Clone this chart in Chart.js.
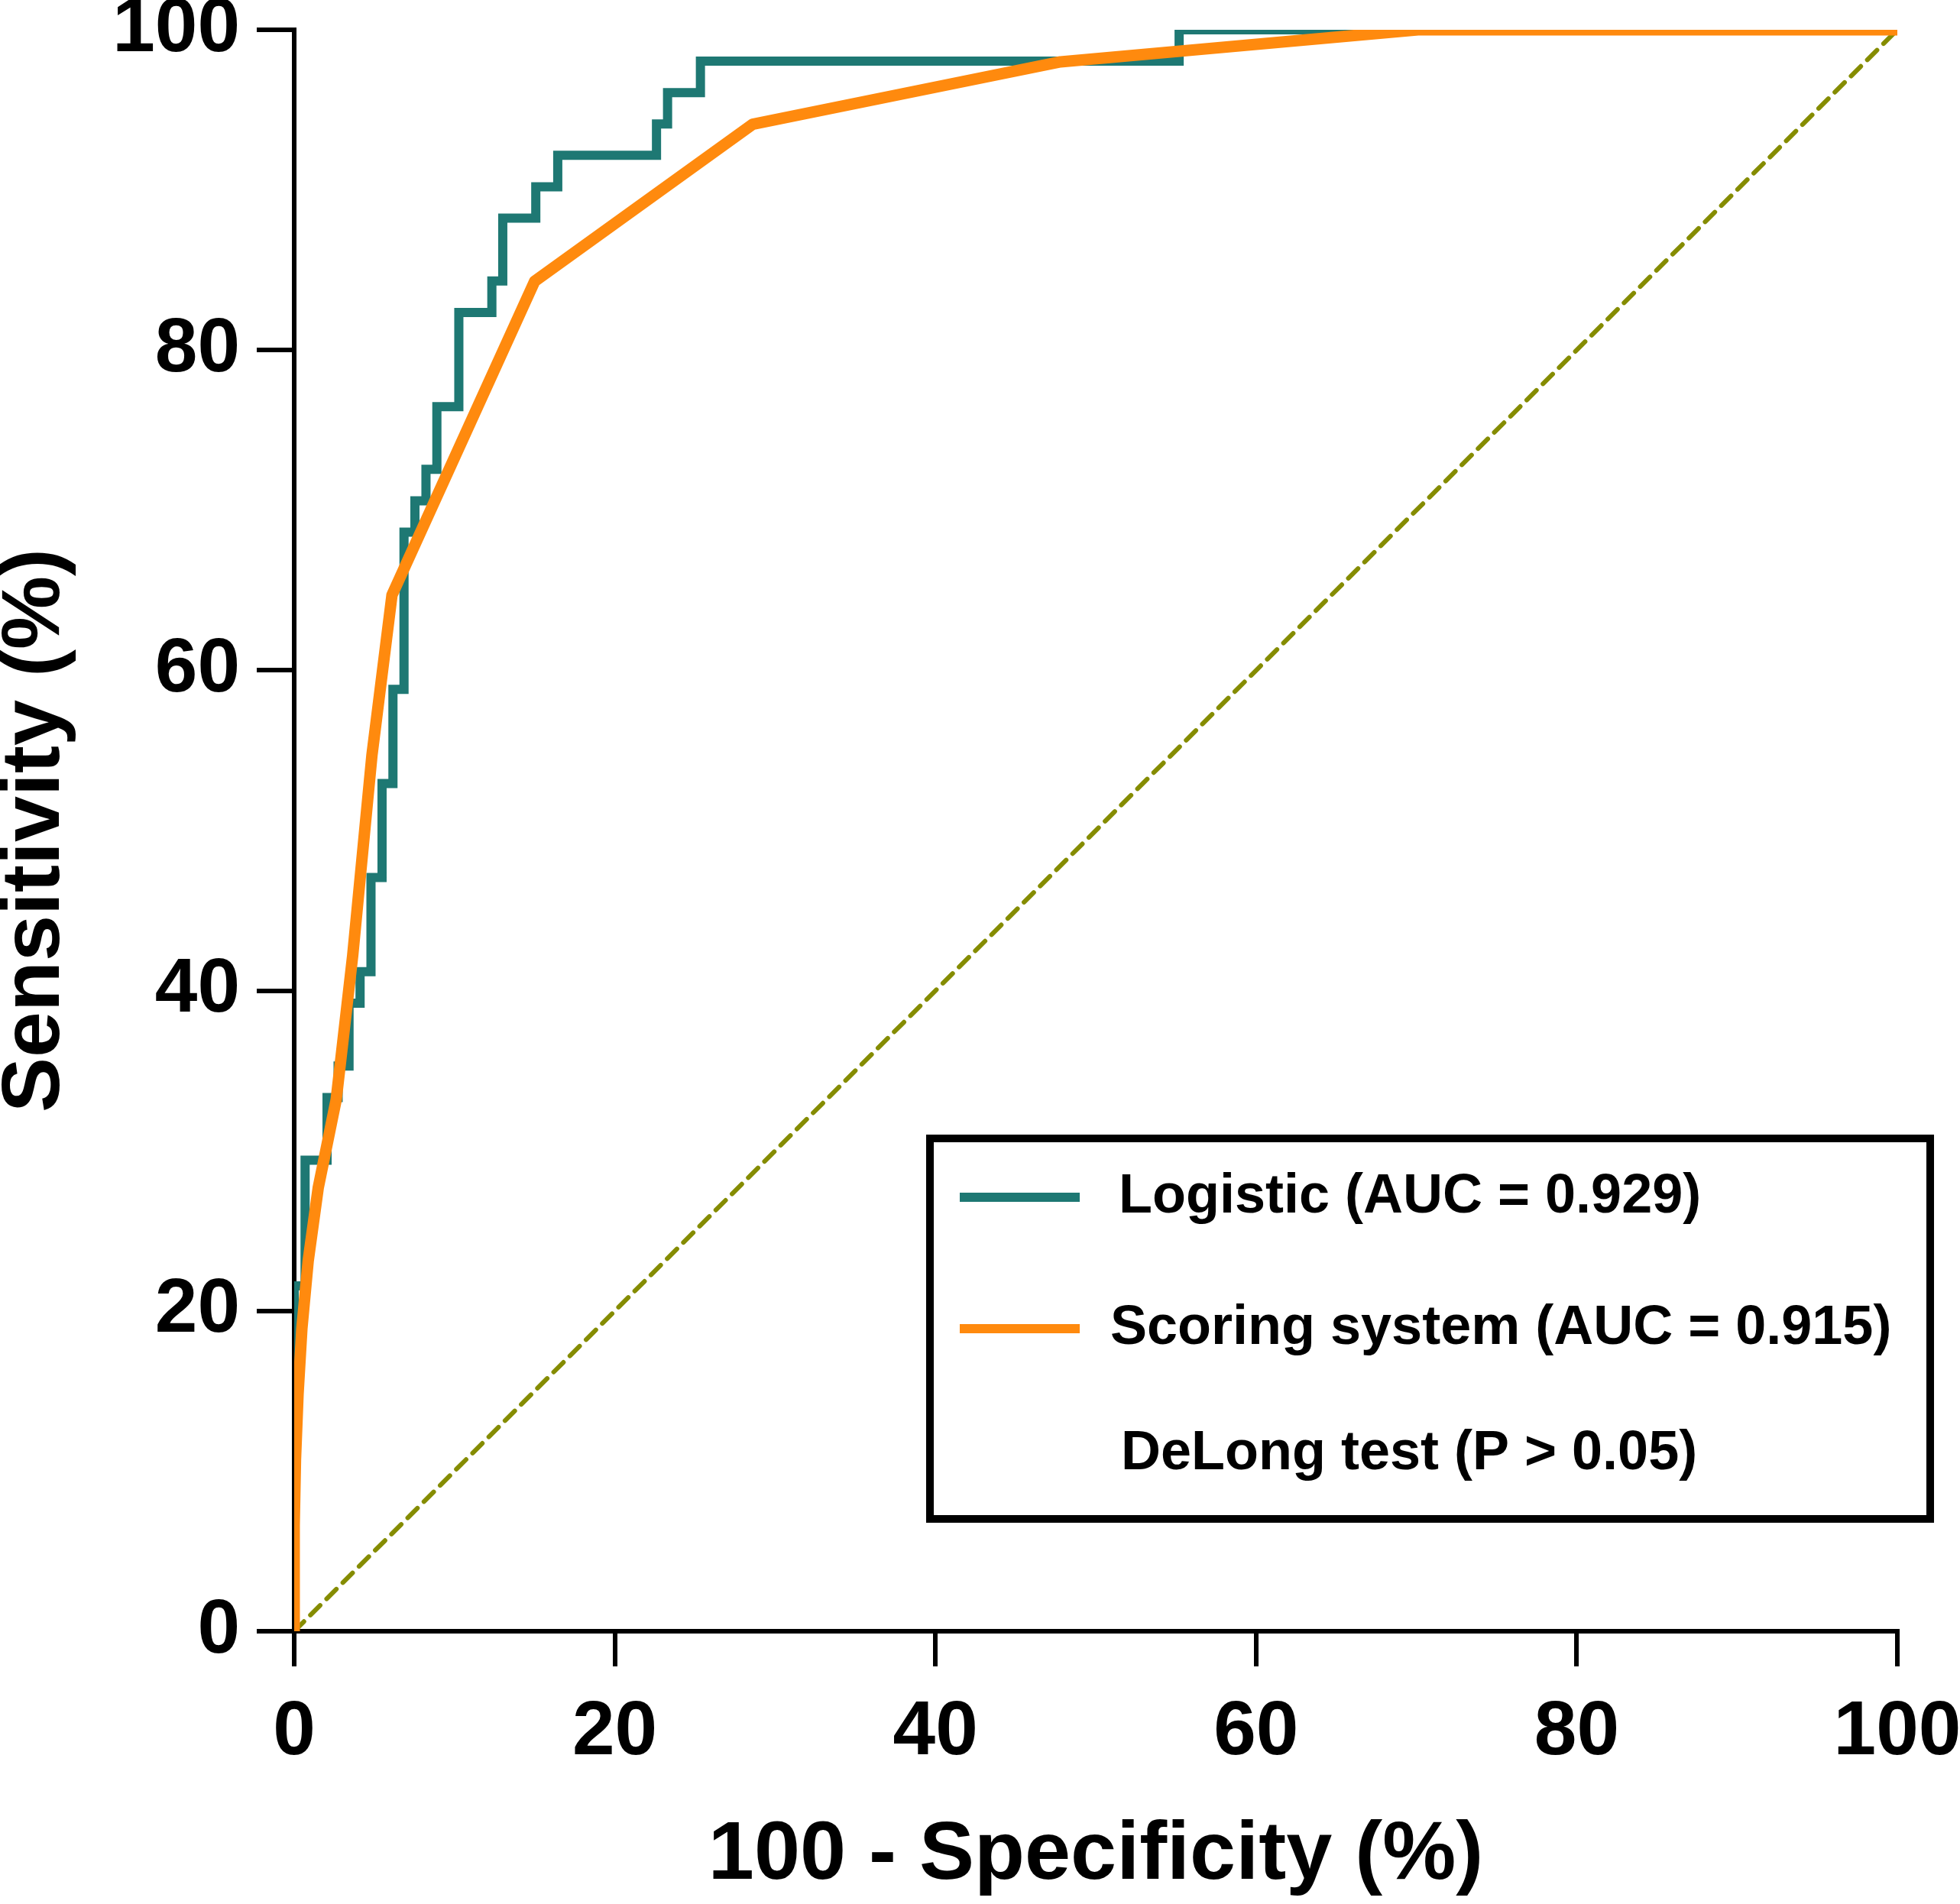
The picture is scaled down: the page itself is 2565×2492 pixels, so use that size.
<!DOCTYPE html>
<html>
<head>
<meta charset="utf-8">
<script src="https://cdn.jsdelivr.net/npm/chart.js@4.4.1/dist/chart.umd.min.js"></script>
<style>
  html, body { margin: 0; padding: 0; background: #fff; }
  #wrap { width: 2565px; height: 2492px; position: relative; }
</style>
</head>
<body>
<div id="wrap"><canvas id="roc"></canvas></div>
<script>
Chart.defaults.font.family = "'Liberation Sans', Arial, sans-serif";
Chart.defaults.color = '#000';

// ROC curve points, 100 - specificity (%) vs sensitivity (%)
const logisticFpr = [0, 0, 0.68, 0.68, 2.05, 2.05, 2.74, 2.74, 3.42, 3.42, 4.11, 4.11, 4.79, 4.79, 5.48, 5.48, 6.16, 6.16, 6.85, 6.85,
    7.53, 7.53, 8.22, 8.22, 8.90, 8.90, 10.27, 10.27, 12.33, 12.33, 13.01, 13.01, 15.07, 15.07, 16.44, 16.44, 22.60, 22.60, 23.29, 23.29,
    25.34, 25.34, 55.2, 55.2, 100];
const logisticTpr = [0, 21.57, 21.57, 29.41, 29.41, 33.33, 33.33, 35.29, 35.29, 39.22, 39.22, 41.18, 41.18, 47.06, 47.06, 52.94, 52.94, 58.82, 58.82, 68.63,
    68.63, 70.59, 70.59, 72.55, 72.55, 76.47, 76.47, 82.35, 82.35, 84.31, 84.31, 88.24, 88.24, 90.20, 90.20, 92.16, 92.16, 94.12, 94.12, 96.08,
    96.08, 98.04, 98.04, 100, 100];
const scoringFpr = [0, 0, 0.08, 0.24, 0.48, 0.87, 1.5, 2.62, 3.65, 4.85, 6.1, 15.0, 28.6, 47.8, 70.1, 100];
const scoringTpr = [0, 6.6, 10.7, 14.8, 18.9, 23.1, 27.7, 33.2, 42.2, 54.7, 64.7, 84.3, 94.1, 98.0, 100, 100];
const refX = [0, 100];
const refY = [0, 100];
const axisTicks = [0, 20, 40, 60, 80, 100];

const seriesLabels = ['Logistic (AUC = 0.929)', 'Scoring system (AUC = 0.915)'];
const noteLabel = 'DeLong test (P > 0.05)';
const xTitle = '100 - Specificity (%)';
const yTitle = 'Sensitivity (%)';

const COL = { teal: '#1E7873', orange: '#FF8A0E', olive: '#858C00', black: '#000' };

function pts(xs, ys) { return xs.map((x, i) => ({ x: x, y: ys[i] })); }

// boxed legend, bottom right
const boxLegend = {
    id: 'boxLegend',
    afterDraw(chart) {
        const ctx = chart.ctx;
        ctx.save();
        ctx.strokeStyle = COL.black;
        ctx.lineWidth = 10;
        ctx.strokeRect(1217, 1490, 1309, 498);
        const rows = [
            { y: 1567, x: 1464, color: COL.teal, text: seriesLabels[0] },
            { y: 1739, x: 1453, color: COL.orange, text: seriesLabels[1] },
            { y: 1903, x: 1467, color: null, text: noteLabel }
        ];
        ctx.font = "bold 72px 'Liberation Sans', Arial, sans-serif";
        ctx.textBaseline = 'middle';
        ctx.textAlign = 'left';
        rows.forEach(r => {
            if (r.color) {
                ctx.strokeStyle = r.color;
                ctx.lineWidth = 12;
                ctx.beginPath();
                ctx.moveTo(1256, r.y);
                ctx.lineTo(1413, r.y);
                ctx.stroke();
            }
            ctx.fillStyle = COL.black;
            ctx.fillText(r.text, r.x, r.y);
        });
        ctx.restore();
    }
};

const axisBase = {
    type: 'linear', min: 0, max: 100,
    afterBuildTicks: s => { s.ticks = axisTicks.map(v => ({ value: v })); },
    grid: { drawOnChartArea: false, drawTicks: true, color: COL.black, lineWidth: 6 },
    border: { display: true, color: COL.black, width: 6 }
};

new Chart(document.getElementById('roc'), {
    type: 'line',
    data: {
        datasets: [
            { label: seriesLabels[1], data: pts(scoringFpr, scoringTpr), borderColor: COL.orange, borderWidth: 15, pointRadius: 0, tension: 0, fill: false, borderJoinStyle: 'round' },
            { label: seriesLabels[0], data: pts(logisticFpr, logisticTpr), borderColor: COL.teal, borderWidth: 12, pointRadius: 0, tension: 0, fill: false, borderJoinStyle: 'miter' },
            { label: 'Reference', data: pts(refX, refY), borderColor: COL.olive, borderWidth: 6, borderDash: [18, 12], borderCapStyle: 'round', pointRadius: 0, fill: false }
        ]
    },
    options: {
        responsive: true, maintainAspectRatio: false, animation: false, devicePixelRatio: 1,
        layout: { padding: { top: 39, right: 82, left: 0, bottom: 0 } },
        plugins: { legend: { display: false }, tooltip: { enabled: false } },
        scales: {
            x: Object.assign({}, axisBase, {
                position: 'bottom',
                grid: Object.assign({}, axisBase.grid, { tickLength: 46 }),
                ticks: { padding: 47, maxRotation: 0, font: { size: 100, weight: 'bold', lineHeight: 0.8 } },
                title: { display: true, text: xTitle, font: { size: 108, weight: 'bold', lineHeight: 1 }, padding: { top: 0, bottom: 9 } },
                afterFit: s => { s.height = 357; s.paddingLeft = 0; s.paddingRight = 0; }
            }),
            y: Object.assign({}, axisBase, {
                position: 'left',
                grid: Object.assign({}, axisBase.grid, { tickLength: 49 }),
                ticks: { padding: 22, font: { size: 100, weight: 'bold', lineHeight: 0.8 } },
                title: { display: true, text: yTitle, font: { size: 108, weight: 'bold', lineHeight: 1 }, padding: { top: -7, bottom: 0 } },
                afterFit: s => { s.width = 385; s.paddingTop = 0; s.paddingBottom = 0; }
            })
        }
    },
    plugins: [boxLegend]
});
</script>
</body>
</html>
